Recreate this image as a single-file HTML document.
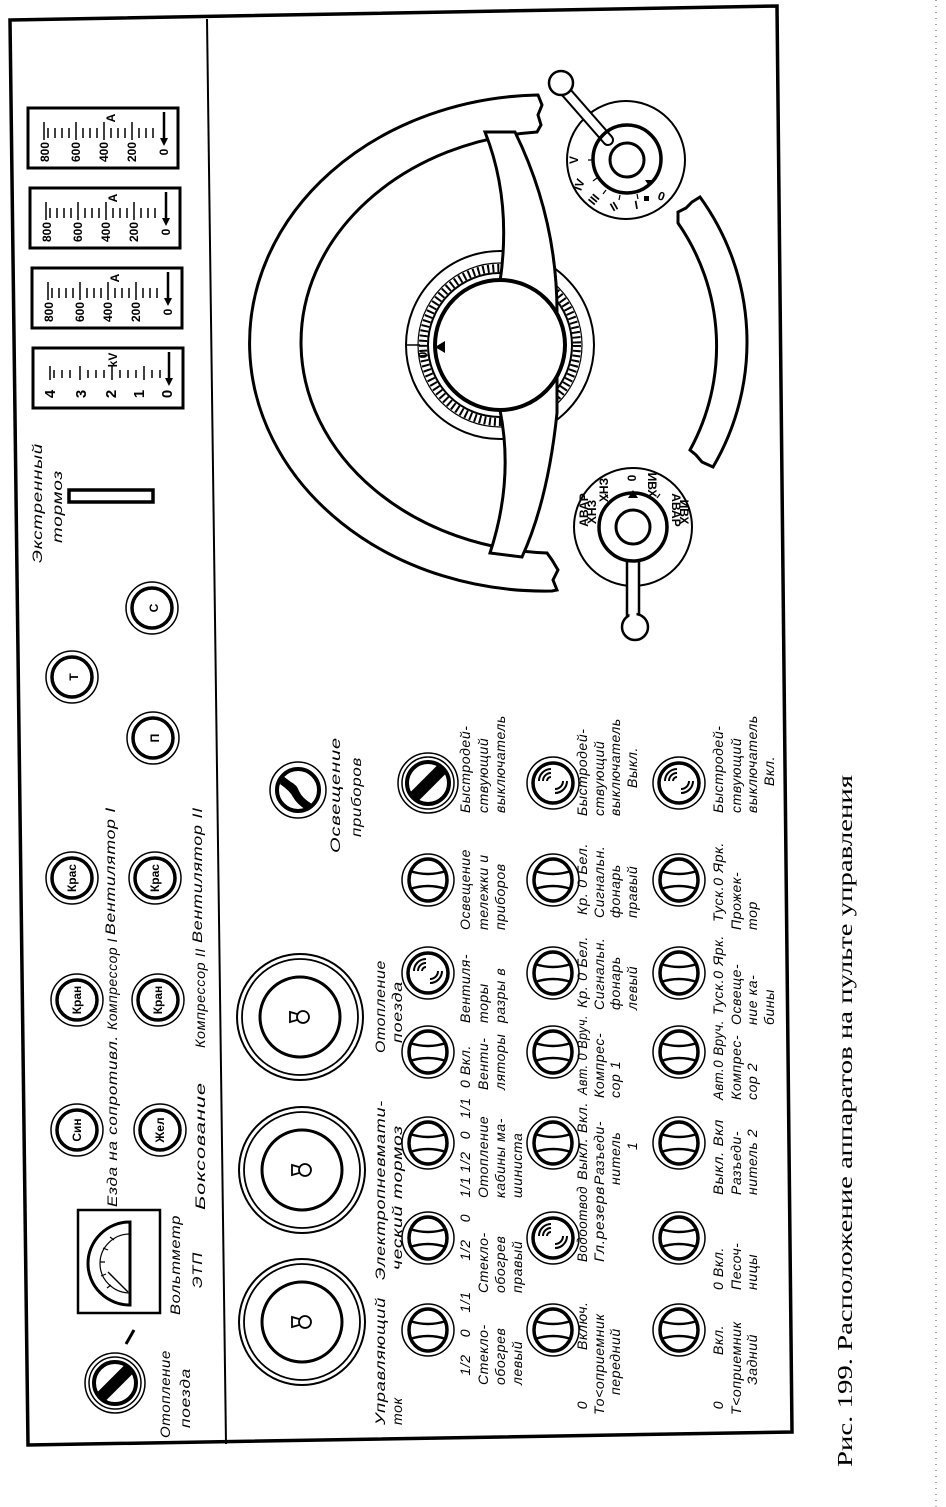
<!DOCTYPE html>
<html><head><meta charset="utf-8"><style>
html,body{margin:0;padding:0;background:#fff;}
svg{display:block;}
.t{font-family:"Liberation Sans",sans-serif;font-style:italic;font-size:14px;letter-spacing:0.6px;fill:#000;}
.n{font-family:"Liberation Sans",sans-serif;font-weight:bold;font-size:12px;fill:#000;}
</style></head><body>
<svg width="946" height="1507" viewBox="0 0 946 1507" xmlns="http://www.w3.org/2000/svg">
<defs>
<g id="tog"><circle r="26" fill="#fff" stroke="#000" stroke-width="1.5"/><ellipse rx="19" ry="21" fill="none" stroke="#000" stroke-width="3.5"/><path d="M-18,-9 Q0,-3 18,-9 M-18,9 Q0,3 18,9" fill="none" stroke="#000" stroke-width="2.5"/></g>
<g id="rad"><circle r="26" fill="#fff" stroke="#000" stroke-width="1.5"/><circle r="20" fill="none" stroke="#000" stroke-width="3.5"/><path d="M-6,-2 a4,4 0 0 1 4,-4 M-10,-2 a8,8 0 0 1 8,-8 M-14,-2 a12,12 0 0 1 12,-12 M2,6 a8,8 0 0 0 8,-8 M2,10 a12,12 0 0 0 12,-12" fill="none" stroke="#000" stroke-width="2"/></g>
<g id="btn"><circle r="26" fill="#fff" stroke="#000" stroke-width="1.5"/><circle r="20" fill="none" stroke="#000" stroke-width="3.5"/></g>
<g id="blk"><circle r="30" fill="#fff" stroke="#000" stroke-width="1.5"/><circle r="26" fill="none" stroke="#000" stroke-width="1.5"/><circle r="21" fill="none" stroke="#000" stroke-width="4"/><rect x="-6" y="-22" width="12" height="44" transform="rotate(45)" fill="#000"/></g>
<g id="big"><circle r="63" fill="#fff" stroke="#000" stroke-width="2"/><circle r="58" fill="none" stroke="#000" stroke-width="1.8"/><circle r="40" fill="none" stroke="#000" stroke-width="3"/><circle cx="3" cy="0" r="6" fill="none" stroke="#000" stroke-width="1.8"/><path d="M-3,-3 L-10,-5 L-10,5 L-3,3" fill="none" stroke="#000" stroke-width="1.8"/></g>
</defs>

<line x1="936" y1="0" x2="936" y2="1507" stroke="#aaa" stroke-width="2" stroke-dasharray="1 5"/>

<polygon points="10,20 777,6 792,1432 28,1445" fill="none" stroke="#000" stroke-width="3.5"/>
<line x1="207" y1="19" x2="226" y2="1444" stroke="#000" stroke-width="2"/>

<g>
<rect x="28" y="108" width="150" height="60" fill="none" stroke="#000" stroke-width="3"/>
<rect x="30" y="188" width="150" height="60" fill="none" stroke="#000" stroke-width="3"/>
<rect x="32" y="268" width="150" height="60" fill="none" stroke="#000" stroke-width="3"/>
<rect x="33" y="348" width="150" height="60" fill="none" stroke="#000" stroke-width="3"/>
<g stroke="#000" stroke-width="1.5">
<path d="M48,128v10M55,128v10M62,128v10M69,128v10M76,122v18M83,128v10M90,128v10M97,128v10M104,122v18M111,128v10M118,128v10M125,128v10M132,122v18M139,128v10M146,128v10M153,128v10M44,122v18"/>
<path d="M50,208v10M57,208v10M64,208v10M71,208v10M78,202v18M85,208v10M92,208v10M99,208v10M106,202v18M113,208v10M120,208v10M127,208v10M134,202v18M141,208v10M148,208v10M155,208v10M46,202v18"/>
<path d="M52,288v10M59,288v10M66,288v10M73,288v10M80,282v18M87,288v10M94,288v10M101,288v10M108,282v18M115,288v10M122,288v10M129,288v10M136,282v18M143,288v10M150,288v10M157,288v10M48,282v18"/>
<path d="M54,370v8M62,370v8M70,370v8M80,366v14M88,370v8M96,370v8M104,370v8M112,366v14M120,370v8M128,370v8M136,370v8M144,366v14M152,370v8M160,370v8M50,366v14"/>
</g>
<g stroke="#000" stroke-width="2.5"><path d="M164,112v30M166,192v30M168,272v30M169,352v30"/></g>
<g fill="#000"><path d="M160,138l4,8l4,-8zM162,218l4,8l4,-8zM164,298l4,8l4,-8zM165,378l4,8l4,-8z"/></g>
<g class="n">
<text transform="rotate(-90 49 152)" x="49" y="152" text-anchor="middle">800</text>
<text transform="rotate(-90 80 152)" x="80" y="152" text-anchor="middle">600</text>
<text transform="rotate(-90 108 152)" x="108" y="152" text-anchor="middle">400</text>
<text transform="rotate(-90 136 152)" x="136" y="152" text-anchor="middle">200</text>
<text transform="rotate(-90 168 152)" x="168" y="152" text-anchor="middle">0</text>
<text transform="rotate(-90 115 118)" x="115" y="118" text-anchor="middle">A</text>
<text transform="rotate(-90 51 232)" x="51" y="232" text-anchor="middle">800</text>
<text transform="rotate(-90 82 232)" x="82" y="232" text-anchor="middle">600</text>
<text transform="rotate(-90 110 232)" x="110" y="232" text-anchor="middle">400</text>
<text transform="rotate(-90 138 232)" x="138" y="232" text-anchor="middle">200</text>
<text transform="rotate(-90 170 232)" x="170" y="232" text-anchor="middle">0</text>
<text transform="rotate(-90 117 198)" x="117" y="198" text-anchor="middle">A</text>
<text transform="rotate(-90 53 312)" x="53" y="312" text-anchor="middle">800</text>
<text transform="rotate(-90 84 312)" x="84" y="312" text-anchor="middle">600</text>
<text transform="rotate(-90 112 312)" x="112" y="312" text-anchor="middle">400</text>
<text transform="rotate(-90 140 312)" x="140" y="312" text-anchor="middle">200</text>
<text transform="rotate(-90 172 312)" x="172" y="312" text-anchor="middle">0</text>
<text transform="rotate(-90 119 278)" x="119" y="278" text-anchor="middle">A</text>
<text transform="rotate(-90 55 394)" x="55" y="394" text-anchor="middle" font-size="15">4</text>
<text transform="rotate(-90 86 394)" x="86" y="394" text-anchor="middle" font-size="15">3</text>
<text transform="rotate(-90 116 394)" x="116" y="394" text-anchor="middle" font-size="15">2</text>
<text transform="rotate(-90 144 394)" x="144" y="394" text-anchor="middle" font-size="15">1</text>
<text transform="rotate(-90 172 394)" x="172" y="394" text-anchor="middle" font-size="15">0</text>
<text transform="rotate(-90 117 360)" x="117" y="360" text-anchor="middle">kV</text>
</g>
</g>

<text class="t" transform="rotate(-90 42 563)" x="42" y="563" textLength="120" lengthAdjust="spacingAndGlyphs">Экстренный</text>
<text class="t" transform="rotate(-90 62 543)" x="62" y="543" textLength="73" lengthAdjust="spacingAndGlyphs">тормоз</text>
<rect x="69" y="490" width="84" height="12" fill="none" stroke="#000" stroke-width="3.5"/>

<use href="#btn" x="152" y="608"/><text class="n" font-size="17" transform="rotate(-90 158 608)" x="158" y="608" text-anchor="middle">С</text>
<use href="#btn" x="72" y="677"/><text class="n" font-size="17" transform="rotate(-90 78 677)" x="78" y="677" text-anchor="middle">Т</text>
<use href="#btn" x="153" y="738"/><text class="n" font-size="17" transform="rotate(-90 159 738)" x="159" y="738" text-anchor="middle">П</text>
<use href="#btn" x="72" y="878"/><text class="n" font-size="10" transform="rotate(-90 76 878)" x="76" y="878" text-anchor="middle">Крас</text>
<use href="#btn" x="155" y="878"/><text class="n" font-size="10" transform="rotate(-90 159 878)" x="159" y="878" text-anchor="middle">Крас</text>
<use href="#btn" x="77" y="1000"/><text class="n" font-size="10" transform="rotate(-90 81 1000)" x="81" y="1000" text-anchor="middle">Кран</text>
<use href="#btn" x="158" y="1000"/><text class="n" font-size="10" transform="rotate(-90 162 1000)" x="162" y="1000" text-anchor="middle">Кран</text>
<use href="#btn" x="77" y="1130"/><text class="n" font-size="12" transform="rotate(-90 81 1130)" x="81" y="1130" text-anchor="middle">Син</text>
<use href="#btn" x="160" y="1130"/><text class="n" font-size="12" transform="rotate(-90 164 1130)" x="164" y="1130" text-anchor="middle">Жел</text>

<g class="t">
<text transform="rotate(-90 115 935)" x="115" y="935" textLength="128" lengthAdjust="spacingAndGlyphs">Вентилятор I</text>
<text transform="rotate(-90 202 943)" x="202" y="943" textLength="136" lengthAdjust="spacingAndGlyphs">Вентилятор II</text>
<text transform="rotate(-90 117 1030)" x="117" y="1030" textLength="92" lengthAdjust="spacingAndGlyphs">Компрессор I</text>
<text transform="rotate(-90 205 1048)" x="205" y="1048" textLength="100" lengthAdjust="spacingAndGlyphs">Компрессор II</text>
<text transform="rotate(-90 117 1207)" x="117" y="1207" textLength="172" lengthAdjust="spacingAndGlyphs">Езда на сопротивл.</text>
<text transform="rotate(-90 205 1210)" x="205" y="1210" textLength="128" lengthAdjust="spacingAndGlyphs">Боксование</text>
<text transform="rotate(-90 180 1315)" x="180" y="1315" textLength="100" lengthAdjust="spacingAndGlyphs">Вольтметр</text>
<text transform="rotate(-90 202 1288)" x="202" y="1288" textLength="36" lengthAdjust="spacingAndGlyphs">ЭТП</text>
<text transform="rotate(-90 170 1438)" x="170" y="1438" textLength="88" lengthAdjust="spacingAndGlyphs">Отопление</text>
<text transform="rotate(-90 190 1428)" x="190" y="1428" textLength="60" lengthAdjust="spacingAndGlyphs">поезда</text>
</g>

<rect x="78" y="1210" width="82" height="103" fill="none" stroke="#000" stroke-width="2.5"/>
<path d="M130,1222 A42,41.5 0 0 0 130,1305 Z" fill="none" stroke="#000" stroke-width="3"/>
<path d="M130,1234 A30,29.5 0 0 0 130,1293" fill="none" stroke="#000" stroke-width="1.2"/>
<g stroke="#000" stroke-width="1.2"><path d="M114,1240l-4,-3M108,1250l-5,-2M105,1262l-5,0M106,1274l-5,2M111,1285l-4,3"/></g>
<line x1="128" y1="1292" x2="108" y2="1272" stroke="#000" stroke-width="1.5"/>
<line x1="126" y1="1344" x2="134" y2="1330" stroke="#000" stroke-width="3"/>

<use href="#blk" x="115" y="1383"/>

<use href="#big" x="302" y="1322"/>
<use href="#big" x="302" y="1170"/>
<use href="#big" x="300" y="1017"/>

<g class="t">
<text transform="rotate(-90 385 1425)" x="385" y="1425" textLength="128" lengthAdjust="spacingAndGlyphs">Управляющий</text>
<text transform="rotate(-90 402 1425)" x="402" y="1425">ток</text>
<text transform="rotate(-90 385 1280)" x="385" y="1280" textLength="180" lengthAdjust="spacingAndGlyphs">Электропневмати-</text>
<text transform="rotate(-90 402 1270)" x="402" y="1270" textLength="145" lengthAdjust="spacingAndGlyphs">ческий тормоз</text>
<text transform="rotate(-90 385 1053)" x="385" y="1053" textLength="93" lengthAdjust="spacingAndGlyphs">Отопление</text>
<text transform="rotate(-90 402 1043)" x="402" y="1043" textLength="62" lengthAdjust="spacingAndGlyphs">поезда</text>
<text transform="rotate(-90 340 853)" x="340" y="853" textLength="116" lengthAdjust="spacingAndGlyphs">Освещение</text>
<text transform="rotate(-90 361 837)" x="361" y="837" textLength="80" lengthAdjust="spacingAndGlyphs">приборов</text>
</g>

<circle cx="298" cy="790" r="28" fill="#fff" stroke="#000" stroke-width="1.5"/>
<circle cx="298" cy="790" r="21" fill="none" stroke="#000" stroke-width="4"/>
<path d="M283,776 L291,782 Q297,785 299,791 Q302,798 312,804 L306,810 Q296,803 293,797 Q290,791 280,784 Z" fill="#000"/>

<use href="#tog" x="428" y="1330"/><use href="#tog" x="428" y="1238"/><use href="#tog" x="428" y="1143"/><use href="#tog" x="428" y="1052"/><use href="#rad" x="428" y="973"/><use href="#tog" x="428" y="880"/><use href="#blk" x="428" y="783"/>
<use href="#tog" x="553" y="1330"/><use href="#rad" x="553" y="1238"/><use href="#tog" x="553" y="1143"/><use href="#tog" x="553" y="1052"/><use href="#tog" x="553" y="973"/><use href="#tog" x="553" y="880"/><use href="#rad" x="553" y="783"/>
<use href="#tog" x="679" y="1330"/><use href="#tog" x="679" y="1238"/><use href="#tog" x="679" y="1143"/><use href="#tog" x="679" y="1052"/><use href="#tog" x="679" y="973"/><use href="#tog" x="679" y="880"/><use href="#rad" x="679" y="783"/>

<!-- row 1 labels -->
<g class="t">
<text transform="rotate(-90 470 1365)" x="470" y="1365" text-anchor="middle">1/2</text>
<text transform="rotate(-90 470 1333)" x="470" y="1333" text-anchor="middle">0</text>
<text transform="rotate(-90 470 1302)" x="470" y="1302" text-anchor="middle">1/1</text>
<text transform="rotate(-90 488 1385)" x="488" y="1385">Стекло-</text>
<text transform="rotate(-90 505 1385)" x="505" y="1385">обогрев</text>
<text transform="rotate(-90 522 1385)" x="522" y="1385">левый</text>
<text transform="rotate(-90 470 1250)" x="470" y="1250" text-anchor="middle">1/2</text>
<text transform="rotate(-90 470 1218)" x="470" y="1218" text-anchor="middle">0</text>
<text transform="rotate(-90 470 1187)" x="470" y="1187" text-anchor="middle">1/1</text>
<text transform="rotate(-90 488 1293)" x="488" y="1293">Стекло-</text>
<text transform="rotate(-90 505 1293)" x="505" y="1293">обогрев</text>
<text transform="rotate(-90 522 1293)" x="522" y="1293">правый</text>
<text transform="rotate(-90 470 1162)" x="470" y="1162" text-anchor="middle">1/2</text>
<text transform="rotate(-90 470 1135)" x="470" y="1135" text-anchor="middle">0</text>
<text transform="rotate(-90 470 1108)" x="470" y="1108" text-anchor="middle">1/1</text>
<text transform="rotate(-90 488 1198)" x="488" y="1198">Отопление</text>
<text transform="rotate(-90 505 1198)" x="505" y="1198">кабины ма-</text>
<text transform="rotate(-90 522 1198)" x="522" y="1198">шиниста</text>
<text transform="rotate(-90 470 1088)" x="470" y="1088">0 Вкл.</text>
<text transform="rotate(-90 488 1090)" x="488" y="1090">Венти-</text>
<text transform="rotate(-90 505 1090)" x="505" y="1090">ляторы</text>
<text transform="rotate(-90 470 1023)" x="470" y="1023">Вентиля-</text>
<text transform="rotate(-90 488 1023)" x="488" y="1023">торы</text>
<text transform="rotate(-90 505 1023)" x="505" y="1023">разры в</text>
<text transform="rotate(-90 470 930)" x="470" y="930">Освещение</text>
<text transform="rotate(-90 488 930)" x="488" y="930">тележки и</text>
<text transform="rotate(-90 505 930)" x="505" y="930">приборов</text>
<text transform="rotate(-90 470 813)" x="470" y="813">Быстродей-</text>
<text transform="rotate(-90 488 813)" x="488" y="813">ствующий</text>
<text transform="rotate(-90 505 813)" x="505" y="813">выключатель</text>
</g>
<!-- row 2 labels -->
<g class="t">
<text transform="rotate(-90 587 1405)" x="587" y="1405" text-anchor="middle">0</text>
<text transform="rotate(-90 587 1350)" x="587" y="1350">Включ.</text>
<text transform="rotate(-90 604 1415)" x="604" y="1415">То&lt;оприемник</text>
<text transform="rotate(-90 620 1395)" x="620" y="1395">передний</text>
<text transform="rotate(-90 587 1262)" x="587" y="1262" textLength="76" lengthAdjust="spacingAndGlyphs">Водоотвод</text>
<text transform="rotate(-90 604 1262)" x="604" y="1262" textLength="76" lengthAdjust="spacingAndGlyphs">Гл.резерв</text>
<text transform="rotate(-90 587 1180)" x="587" y="1180" textLength="78" lengthAdjust="spacingAndGlyphs">Выкл. Вкл.</text>
<text transform="rotate(-90 604 1185)" x="604" y="1185">Разъеди-</text>
<text transform="rotate(-90 620 1185)" x="620" y="1185">нитель</text>
<text transform="rotate(-90 637 1150)" x="637" y="1150">1</text>
<text transform="rotate(-90 587 1095)" x="587" y="1095" textLength="80" lengthAdjust="spacingAndGlyphs">Авт. 0 Вруч.</text>
<text transform="rotate(-90 604 1098)" x="604" y="1098">Компрес-</text>
<text transform="rotate(-90 620 1098)" x="620" y="1098">сор 1</text>
<text transform="rotate(-90 587 1008)" x="587" y="1008" textLength="72" lengthAdjust="spacingAndGlyphs">Кр. 0 Бел.</text>
<text transform="rotate(-90 604 1010)" x="604" y="1010">Сигнальн.</text>
<text transform="rotate(-90 620 1010)" x="620" y="1010">фонарь</text>
<text transform="rotate(-90 637 1010)" x="637" y="1010">левый</text>
<text transform="rotate(-90 587 915)" x="587" y="915" textLength="72" lengthAdjust="spacingAndGlyphs">Кр. 0 Бел.</text>
<text transform="rotate(-90 604 918)" x="604" y="918">Сигнальн.</text>
<text transform="rotate(-90 620 918)" x="620" y="918">фонарь</text>
<text transform="rotate(-90 637 918)" x="637" y="918">правый</text>
<text transform="rotate(-90 587 816)" x="587" y="816">Быстродей-</text>
<text transform="rotate(-90 604 816)" x="604" y="816">ствующий</text>
<text transform="rotate(-90 620 816)" x="620" y="816">выключатель</text>
<text transform="rotate(-90 637 788)" x="637" y="788">Выкл.</text>
</g>
<!-- row 3 labels -->
<g class="t">
<text transform="rotate(-90 723 1405)" x="723" y="1405" text-anchor="middle">0</text>
<text transform="rotate(-90 723 1355)" x="723" y="1355">Вкл.</text>
<text transform="rotate(-90 741 1415)" x="741" y="1415">Т&lt;оприемник</text>
<text transform="rotate(-90 757 1385)" x="757" y="1385">Задний</text>
<text transform="rotate(-90 723 1290)" x="723" y="1290">0  Вкл.</text>
<text transform="rotate(-90 741 1290)" x="741" y="1290">Песоч-</text>
<text transform="rotate(-90 757 1290)" x="757" y="1290">ницы</text>
<text transform="rotate(-90 723 1195)" x="723" y="1195" textLength="76" lengthAdjust="spacingAndGlyphs">Выкл. Вкл</text>
<text transform="rotate(-90 741 1195)" x="741" y="1195">Разъеди-</text>
<text transform="rotate(-90 757 1195)" x="757" y="1195">нитель 2</text>
<text transform="rotate(-90 723 1100)" x="723" y="1100" textLength="80" lengthAdjust="spacingAndGlyphs">Авт.0 Вруч.</text>
<text transform="rotate(-90 741 1100)" x="741" y="1100">Компрес-</text>
<text transform="rotate(-90 757 1100)" x="757" y="1100">сор 2</text>
<text transform="rotate(-90 723 1015)" x="723" y="1015" textLength="80" lengthAdjust="spacingAndGlyphs">Туск.0 Ярк.</text>
<text transform="rotate(-90 741 1025)" x="741" y="1025">Освеще-</text>
<text transform="rotate(-90 757 1025)" x="757" y="1025">ние ка-</text>
<text transform="rotate(-90 774 1025)" x="774" y="1025">бины</text>
<text transform="rotate(-90 723 922)" x="723" y="922" textLength="80" lengthAdjust="spacingAndGlyphs">Туск.0 Ярк.</text>
<text transform="rotate(-90 741 930)" x="741" y="930">Прожек-</text>
<text transform="rotate(-90 757 930)" x="757" y="930">тор</text>
<text transform="rotate(-90 723 813)" x="723" y="813">Быстродей-</text>
<text transform="rotate(-90 741 813)" x="741" y="813">ствующий</text>
<text transform="rotate(-90 757 813)" x="757" y="813">выключатель</text>
<text transform="rotate(-90 774 786)" x="774" y="786">Вкл.</text>
</g>

<path d="M537,95 A295,248 0 0 0 552,591 L557,590 L553,580 L558,570 L552,560 L547,553 A258,211 0 0 1 537,132 L541,125 L538,115 L542,105 L538,95 Z" fill="#fff" stroke="#000" stroke-width="3"/>
<circle cx="500" cy="345" r="94" fill="#fff" stroke="#000" stroke-width="2"/>
<circle cx="500" cy="345" r="82" fill="none" stroke="#000" stroke-width="1.2"/>
<circle cx="500" cy="345" r="72" fill="none" stroke="#000" stroke-width="2"/>
<circle cx="500" cy="345" r="77" fill="none" stroke="#000" stroke-width="8" stroke-dasharray="2 3"/>
<path d="M407,345 L420,345" stroke="#000" stroke-width="1.5"/>
<text class="n" transform="rotate(-90 427 355)" x="427" y="355" text-anchor="middle">0</text>
<path d="M485,132 Q512,200 500,282 L500,410 Q514,480 490,553 L522,557 Q548,500 557,413 L557,317 Q558,220 515,132 Z" fill="#fff" stroke="#000" stroke-width="3"/>
<circle cx="500" cy="345" r="65" fill="#fff" stroke="#000" stroke-width="4"/>
<path d="M435,347 l10,-6 l0,12 z" fill="#000"/>
<path d="M678,223 A216,216 0 0 1 690,450 L696,455 L702,462 L713,467 A247,247 0 0 0 700,197 L692,202 L686,208 L678,212 Z" fill="#fff" stroke="#000" stroke-width="3"/>

<circle cx="626" cy="160" r="59" fill="#fff" stroke="#000" stroke-width="2"/>
<path d="M608,140 L566,92" stroke="#000" stroke-width="12" stroke-linecap="round"/>
<path d="M608,140 L566,92" stroke="#fff" stroke-width="8" stroke-linecap="round"/>
<circle cx="561" cy="83" r="12" fill="#fff" stroke="#000" stroke-width="2.5"/>
<circle cx="564" cy="88" r="5" fill="#fff"/>
<circle cx="627" cy="159" r="34" fill="none" stroke="#000" stroke-width="3.5"/>
<circle cx="627" cy="160" r="17" fill="#fff" stroke="#000" stroke-width="3"/>
<g stroke="#000" stroke-width="1.2"><path d="M593,160h-5M597,178l-4,3M606,190l-3,4M620,195l-1,5M637,194l1,5"/></g>
<path d="M649,186 l-4,-6 l8,0 z" fill="#000"/>
<rect x="644" y="196" width="5" height="5" fill="#000"/>
<g class="n" font-size="10">
<text transform="rotate(-90 578 160)" x="578" y="160" text-anchor="middle">V</text>
<text transform="rotate(-70 583 186)" x="583" y="186" text-anchor="middle">IV</text>
<text transform="rotate(-50 597 202)" x="597" y="202" text-anchor="middle">III</text>
<text transform="rotate(-30 616 210)" x="616" y="210" text-anchor="middle">II</text>
<text transform="rotate(-10 637 209)" x="637" y="209" text-anchor="middle">I</text>
<text transform="rotate(20 660 200)" x="660" y="200" text-anchor="middle">0</text>
</g>

<circle cx="633" cy="527" r="59" fill="#fff" stroke="#000" stroke-width="2"/>
<rect x="627" y="560" width="12" height="58" fill="#fff" stroke="#000" stroke-width="2.5"/>
<circle cx="635" cy="627" r="13" fill="#fff" stroke="#000" stroke-width="2.5"/>
<rect x="629.5" y="608" width="7" height="12" fill="#fff"/>
<circle cx="633" cy="527" r="34" fill="#fff" stroke="#000" stroke-width="3.5"/>
<circle cx="633" cy="527" r="17" fill="#fff" stroke="#000" stroke-width="3"/>
<path d="M633,490 l-5,8 l10,0 z" fill="#000"/>
<g stroke="#000" stroke-width="1.2"><path d="M608,498l-3,-4M657,498l3,-4"/></g>
<g class="n" font-size="9">
<text transform="rotate(-90 636 478)" x="636" y="478" text-anchor="middle">0</text>
<text transform="rotate(90 648 485)" x="648" y="485" text-anchor="middle">ИВХ</text>
<text transform="rotate(90 672 510)" x="672" y="510" text-anchor="middle">АВАР</text>
<text transform="rotate(90 680 512)" x="680" y="512" text-anchor="middle">ИВХ</text>
<text transform="rotate(-90 608 490)" x="608" y="490" text-anchor="middle">ХНЗ</text>
<text transform="rotate(-90 588 510)" x="588" y="510" text-anchor="middle">АВАР</text>
<text transform="rotate(-90 596 512)" x="596" y="512" text-anchor="middle">ХНЗ</text>
</g>

<text transform="rotate(-90 852 1467)" x="852" y="1467" font-family="'Liberation Serif',serif" font-size="21" textLength="692" lengthAdjust="spacingAndGlyphs">Рис. 199. Расположение аппаратов на пульте управления</text>
</svg>
</body></html>
